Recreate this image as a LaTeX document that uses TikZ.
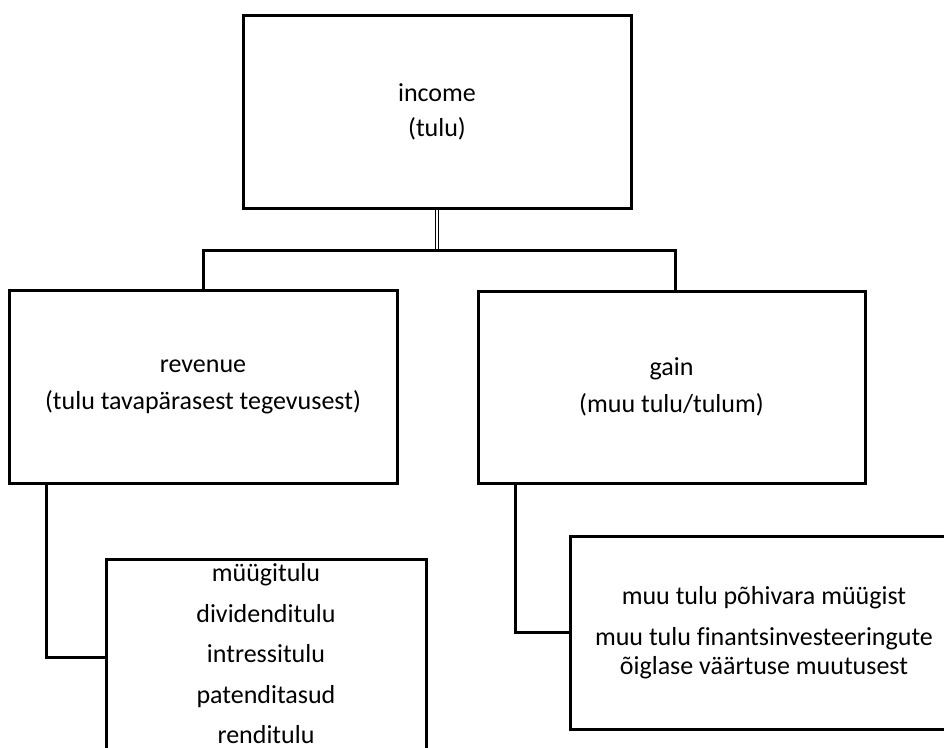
\documentclass[tikz,border=0pt]{standalone}
\usepackage{fontspec}
\setmainfont{Carlito}[Ligatures=NoCommon]
\begin{document}
\begin{tikzpicture}[x=1pt,y=-1pt,
  box/.style={draw, line width=3pt, rectangle, align=center, inner sep=0pt,
    font=\fontsize{26}{29}\selectfont},
  conn/.style={line width=3pt},
  dbl/.style={double, line width=1.2pt, double distance=1.1pt}]
\useasboundingbox (0,0) rectangle (944,747);
\clip (0,0) rectangle (944,747);
\node[box, minimum width=388pt, minimum height=193pt] (inc) at (437,111.5) {income\\[6pt](tulu)};
\node[box, minimum width=388pt, minimum height=193pt] (rev) at (203,386.5) {revenue\\[8pt](tulu tavapärasest tegevusest)};
\node[box, minimum width=387pt, minimum height=192pt] (gain) at (671.5,387) {gain\\[8pt](muu tulu/tulum)};
\node[box, minimum width=320pt, minimum height=196pt, text depth=7pt] (lc) at (266,657) {müügitulu\\[11.5pt]dividenditulu\\[11.5pt]intressitulu\\[11.5pt]patenditasud\\[11.5pt]renditulu};
\node[box, minimum width=388pt, minimum height=193pt] (rc) at (764,632.5) {muu tulu põhivara müügist\\[12pt]muu tulu finantsinvesteeringute\\õiglase väärtuse muutusest};
\coordinate (br) at (437,250);
\draw[dbl] (inc.south) -- (inc.south |- br);
\draw[conn] (rev.north) |- (br) -| ([xshift=3.5pt]gain.north);
\draw[conn] ([xshift=39pt]rev.south west) |- (lc.west);
\draw[conn] ([xshift=39pt]gain.south west) |- (rc.west);
\end{tikzpicture}
\end{document}
